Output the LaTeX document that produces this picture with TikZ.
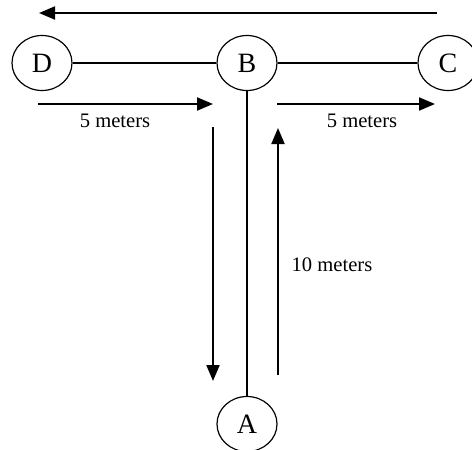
\documentclass[tikz,border=0pt]{standalone}
\usepackage{fontspec}
\setmainfont{Liberation Serif}
\usetikzlibrary{shapes.geometric,arrows.meta,calc}
\tikzset{
  place/.style={ellipse, draw, line width=0.6pt, minimum width=30pt,
    minimum height=27.5pt, inner sep=0pt, font=\fontsize{14}{16}\selectfont},
  walk/.style={line width=1pt, -{Triangle[length=8pt,width=6.5pt]}},
  dist/.style={font=\fontsize{10.3}{12}\selectfont}
}
\begin{document}
\begin{tikzpicture}[x=0.5pt,y=-0.5pt]
  \useasboundingbox (0,0) rectangle (472,450);
  \node[place] (D) at (42,63) {D};
  \node[place] (B) at ($(D) + (205,0)$) {B};
  \node[place] (C) at ($(B) + (201,0)$) {C};
  \node[place] (A) at ($(B) + (0,361)$) {A};
  \coordinate (T1) at (437,13);
  \coordinate (T2) at (39,13);
  \coordinate (L1) at (38,104);
  \coordinate (L2) at (213,104);
  \coordinate (R1) at (277,104);
  \coordinate (R2) at (435,104);
  \coordinate (S1) at (213,127);
  \coordinate (S2) at (213,381);
  \coordinate (U1) at (278,375);
  \coordinate (U2) at (278,128);
  \draw[line width=0.6pt]
  (D) -- (B) -- (C)
  (B) -- (A);
  \draw[walk] (T1) -- (T2);
  \draw[walk] (L1) -- (L2);
  \draw[walk] (R1) -- (R2);
  \draw[walk] (S1) -- (S2);
  \draw[walk] (U1) -- (U2);
  \node[dist] (l1) at (115,121) {5 meters};
  \node[dist] (l2) at (362,121) {5 meters};
  \node[dist] (l3) at (332,265) {10 meters};
\end{tikzpicture}
\end{document}
